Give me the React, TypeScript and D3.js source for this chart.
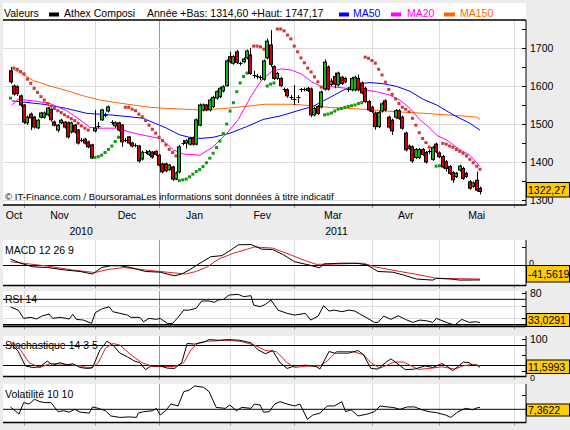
import * as d3 from 'd3';

const FONT = "'Liberation Sans', Arial, sans-serif";

// daily candles, Athex Composite (oct 2010 -> may 2011)
const opens = [1640, 1600, 1598, 1574, 1550, 1503, 1526, 1518, 1490, 1518, 1518, 1524, 1539, 1505, 1484, 1503, 1505, 1503, 1479, 1497,
  1484, 1459, 1460, 1453, 1445, 1482, 1494, 1511, 1523, 1534, 1502, 1495, 1503, 1497, 1457, 1466, 1450, 1443, 1442, 1408,
  1425, 1420, 1426, 1428, 1418, 1395, 1395, 1380, 1387, 1355, 1374, 1449, 1450, 1447, 1463, 1447, 1497, 1537, 1550, 1537,
  1546, 1568, 1572, 1587, 1601, 1677, 1660, 1690, 1658, 1664, 1674, 1682, 1628, 1624, 1621, 1618, 1674, 1708, 1651, 1620,
  1620, 1589, 1590, 1569, 1564, 1569, 1591, 1590, 1594, 1592, 1524, 1546, 1545, 1592, 1650, 1604, 1625, 1603, 1623, 1620,
  1589, 1590, 1590, 1620, 1608, 1594, 1559, 1544, 1529, 1493, 1534, 1561, 1518, 1510, 1518, 1535, 1518, 1476, 1442, 1440,
  1412, 1412, 1433, 1425, 1426, 1407, 1447, 1424, 1414, 1401, 1388, 1372, 1362, 1379, 1383, 1370, 1348, 1336, 1352, 1331];
const closes = [1611, 1579, 1580, 1550, 1505, 1518, 1516, 1492, 1510, 1529, 1529, 1542, 1511, 1497, 1497, 1510, 1492, 1466, 1503, 1479,
  1450, 1457, 1450, 1440, 1413, 1489, 1496, 1537, 1525, 1545, 1504, 1503, 1484, 1453, 1459, 1450, 1442, 1445, 1403, 1426,
  1427, 1428, 1413, 1420, 1392, 1374, 1377, 1392, 1355, 1371, 1440, 1451, 1456, 1462, 1447, 1511, 1550, 1550, 1537, 1563,
  1570, 1585, 1594, 1598, 1666, 1664, 1677, 1662, 1660, 1671, 1692, 1633, 1630, 1626, 1623, 1666, 1718, 1657, 1620, 1633,
  1601, 1591, 1574, 1571, 1566, 1571, 1588, 1592, 1588, 1524, 1541, 1528, 1584, 1663, 1592, 1613, 1605, 1634, 1607, 1611,
  1591, 1620, 1623, 1590, 1582, 1559, 1537, 1533, 1493, 1530, 1553, 1537, 1492, 1482, 1535, 1515, 1489, 1432, 1436, 1403,
  1433, 1433, 1420, 1400, 1428, 1438, 1427, 1414, 1387, 1383, 1370, 1353, 1370, 1389, 1357, 1362, 1331, 1345, 1326, 1322.27];
const highs = [1650, 1604, 1602, 1578, 1552, 1522, 1530, 1521, 1514, 1532, 1533, 1545, 1541, 1509, 1500, 1514, 1508, 1506, 1506, 1500,
  1487, 1463, 1464, 1456, 1448, 1537, 1505, 1540, 1530, 1549, 1510, 1507, 1506, 1500, 1463, 1469, 1453, 1449, 1445, 1430,
  1431, 1432, 1429, 1431, 1421, 1398, 1398, 1395, 1390, 1375, 1445, 1458, 1460, 1466, 1467, 1515, 1554, 1554, 1553, 1567,
  1574, 1589, 1598, 1602, 1670, 1690, 1681, 1695, 1664, 1675, 1696, 1700, 1640, 1632, 1628, 1670, 1725, 1747.17, 1655, 1637,
  1624, 1596, 1594, 1576, 1603, 1576, 1595, 1596, 1598, 1596, 1545, 1550, 1588, 1670, 1654, 1620, 1635, 1638, 1627, 1624,
  1596, 1624, 1627, 1630, 1612, 1598, 1563, 1548, 1533, 1534, 1557, 1565, 1522, 1514, 1539, 1539, 1522, 1480, 1446, 1444,
  1437, 1437, 1437, 1429, 1433, 1442, 1451, 1428, 1418, 1405, 1392, 1376, 1374, 1393, 1387, 1374, 1352, 1349, 1375, 1335];
const lows = [1606, 1575, 1574, 1545, 1500, 1498, 1484, 1488, 1486, 1515, 1514, 1520, 1506, 1494, 1478, 1500, 1488, 1462, 1475, 1475,
  1446, 1452, 1446, 1436, 1408, 1478, 1488, 1508, 1518, 1530, 1498, 1490, 1480, 1440, 1452, 1446, 1438, 1439, 1398, 1404,
  1421, 1416, 1409, 1416, 1388, 1370, 1373, 1376, 1350, 1352, 1370, 1444, 1435, 1443, 1443, 1444, 1494, 1533, 1533, 1533,
  1542, 1564, 1568, 1583, 1598, 1660, 1656, 1658, 1654, 1660, 1670, 1629, 1620, 1618, 1615, 1614, 1670, 1650, 1616, 1616,
  1597, 1584, 1569, 1564, 1550, 1555, 1584, 1586, 1584, 1518, 1520, 1524, 1541, 1588, 1588, 1600, 1594, 1599, 1603, 1607,
  1584, 1586, 1586, 1586, 1578, 1555, 1533, 1529, 1485, 1489, 1530, 1533, 1488, 1471, 1514, 1511, 1485, 1428, 1432, 1398,
  1408, 1408, 1416, 1396, 1421, 1403, 1423, 1410, 1383, 1375, 1366, 1345, 1358, 1375, 1353, 1358, 1327, 1332, 1322, 1314.6];

// parabolic SAR, one value per day; trend flips at these days (first run is up)
const sarValues = [1568,
  1647, 1644, 1638, 1632, 1618, 1607, 1594, 1583, 1572, 1563, 1554, 1547, 1541, 1535, 1530, 1524, 1519, 1514, 1509, 1502, 1495, 1489, 1484,
  1412, 1412, 1414, 1418, 1425, 1433, 1442, 1454, 1465, 1474,
  1544, 1544, 1539, 1535, 1526, 1519, 1509, 1497, 1486, 1476, 1465, 1456, 1445, 1433, 1425, 1416,
  1351, 1353, 1355, 1361, 1368, 1375, 1380, 1388, 1398, 1410, 1423, 1438, 1455, 1475, 1500, 1534, 1556, 1585, 1608, 1625, 1634, 1636,
  1705, 1705, 1703, 1697,
  1600, 1605, 1608,
  1750, 1750, 1745, 1734, 1724, 1705, 1690, 1674, 1661, 1647, 1637, 1624, 1611, 1597,
  1524, 1526, 1529, 1534, 1539, 1541, 1544, 1546, 1548, 1550, 1554, 1556,
  1676, 1673, 1667, 1660, 1644, 1629, 1610, 1591, 1578, 1566, 1554, 1544, 1539, 1532, 1515, 1497, 1477, 1462, 1451, 1439, 1430,
  1389, 1390,
  1449, 1447, 1442, 1439, 1433, 1428, 1423, 1416, 1407, 1398, 1389, 1381];
const sarFlips = [1, 24, 34, 50, 72, 76, 79, 93, 105, 126, 128];

// moving averages [day, value]
const ma20 = [[0.4, 1550], [2.3, 1565], [6.8, 1561], [11.7, 1554], [16.6, 1535], [20.6, 1511], [23.5, 1491], [26.5, 1489], [31.4, 1489],
  [36.4, 1476], [41.3, 1467], [44.3, 1462], [46.2, 1449], [48.2, 1432], [51.2, 1421], [56.1, 1418], [60, 1440], [64, 1475], [67.4, 1511],
  [71.4, 1576], [74.4, 1616], [77.3, 1638], [80.3, 1645], [83.2, 1642], [86.2, 1631], [89.2, 1611], [92.1, 1598], [95.1, 1598], [99.5, 1594],
  [105.4, 1589], [108.4, 1585], [112.3, 1576], [115.3, 1563], [118.3, 1541], [121.2, 1511], [124.2, 1489], [126.2, 1470], [129.1, 1458],
  [133.1, 1432], [136, 1418], [139, 1388]];
const ma50 = [[0.4, 1561], [9.7, 1552], [16.6, 1541], [22.6, 1528], [29.5, 1524], [35.4, 1519], [39.3, 1515], [43.3, 1500], [46.2, 1489],
  [50.2, 1471], [53.1, 1465], [56.1, 1462], [60, 1465], [65, 1476], [69.9, 1493], [74.8, 1512], [79.8, 1521], [84.7, 1534], [89.7, 1547],
  [94.6, 1570], [98.5, 1589], [102.5, 1605], [106.4, 1609], [110.4, 1606], [114.3, 1599], [118.3, 1586], [122.2, 1565], [126.2, 1550],
  [131.1, 1524], [136, 1502], [139, 1484]];
const ma150 = [[0.8, 1644], [2.8, 1635], [6.8, 1614], [11.7, 1600], [16.6, 1588], [21.6, 1574], [26.5, 1563], [31.4, 1556], [36.4, 1550],
  [41.3, 1544], [46.2, 1541], [51.2, 1539], [56.1, 1537], [63.5, 1541], [69.4, 1546], [75.3, 1552], [83.2, 1552], [89.2, 1548],
  [95.1, 1543], [104.4, 1539], [114.3, 1532], [119.2, 1530], [124.2, 1527], [134, 1521], [138, 1518], [139, 1512]];

// indicators [day, value]
const macdLine = [[0, 16], [3, 5], [6.6, -5], [11, -7], [16.3, -14], [20.6, -18], [24.3, -25], [27, -7], [29.7, -2], [32.4, -2], [35.6, -7],
  [40, -18], [44.3, -20], [48.6, -30], [50.7, -25], [52.9, -14], [56.1, 5], [59.3, 23], [62.6, 26], [65.3, 42], [67.4, 56], [71.2, 57],
  [74.4, 44], [77.6, 43], [80.9, 28], [84.1, 9], [88.4, 0], [91.6, -8], [92.7, 3], [98.1, 5], [102.4, 5], [105.6, 0], [108.8, -18],
  [113.2, -20], [116.4, -28], [120.2, -39], [125, -42], [126.1, -37], [130.4, -39], [133, -42], [139, -41.5619]];
const macdSignal = [[0, 9], [5.5, 3], [11, -3], [18.4, -14], [24.9, -21], [29.2, -12], [33.5, -7], [40, -14], [46.4, -20], [51.8, -25],
  [55, -18], [58.3, -5], [61.5, 16], [65.8, 32], [70.1, 44], [72.2, 50], [77.6, 47], [83, 28], [87.3, 12], [90.5, 2], [93.8, 2],
  [104.5, 5], [107.8, -5], [115.3, -18], [119.6, -25], [126.1, -37], [139, -39]];
const rsi = [[0, 58], [2.3, 53], [3.9, 40], [6, 41.6], [7.7, 39], [9.3, 43.7], [11.4, 46.8], [12.5, 40], [14.7, 41.6], [17.4, 39],
  [18.4, 46.3], [19.5, 38.4], [21.6, 37.3], [24, 32], [25.1, 49], [27, 54.7], [29.2, 58.4], [30.3, 50.5], [32.4, 47.9], [34.6, 45.2],
  [35.6, 41.6], [38.3, 41.6], [39.4, 34.7], [41, 40], [43.2, 38.4], [44.3, 40], [46.4, 32], [48, 32], [49.6, 41.6], [51.3, 53],
  [52.9, 53], [55, 56], [56.6, 67.4], [58.8, 67.4], [60.4, 65.3], [61.5, 69], [63.1, 70], [64.7, 76.8], [67.4, 77.9], [69, 74.2],
  [71.2, 75.8], [72, 61], [73.9, 58.4], [75.5, 62.1], [77.1, 69], [79.2, 53], [81.9, 47.9], [84.1, 45.2], [87.3, 47.9], [88.9, 37.3],
  [91.1, 43.7], [92.7, 60], [94.3, 51.6], [95.9, 53], [98.1, 50.5], [100.2, 53], [101.9, 51.6], [104, 45.2], [107.8, 33.6],
  [108.8, 33.6], [110.5, 43.7], [112.6, 38.4], [114.8, 44], [116.9, 38.4], [119.1, 33.6], [121.2, 37.3], [123.4, 36], [125, 33.6],
  [126.1, 40], [129.3, 33.1], [131.5, 29.4], [133.6, 38.4], [135.8, 33.6], [137.9, 34.7], [139, 33.0291]];
const stochK = [[0, 87], [2.3, 61], [4.4, 16], [6.6, 11], [8.7, 13], [10.9, 31], [12.5, 18], [14.7, 26], [16.8, 18], [18.4, 23],
  [20.6, 11], [22.7, 8], [24.3, 11], [26.5, 66], [28.6, 93], [30.3, 81], [32.4, 56], [34.6, 44], [36.7, 31], [38.3, 26], [40, 4],
  [41.6, 16], [44.3, 16], [46.4, 9], [48.6, 8], [50.7, 26], [52.3, 86], [54.5, 84], [57.2, 90], [58.8, 98], [61.5, 96], [64.7, 98],
  [67.9, 96], [71.2, 88], [73.3, 66], [75.5, 54], [77.6, 64], [79.8, 26], [81.9, 8], [84.1, 16], [87.3, 18], [90.5, 14], [91.6, 6],
  [94.3, 61], [95.9, 56], [98.1, 56], [100.2, 56], [102.9, 64], [104.5, 51], [106.7, 8], [108.8, 6], [111, 26], [112.6, 38], [114.2, 26],
  [116.9, 4], [119.6, 6], [122.8, 16], [125, 11], [127.7, 23], [129.3, 14], [130.9, 1], [132.5, 14], [134.1, 28], [135.8, 26],
  [136.8, 18], [137.9, 19], [139, 11.5993]];
const stochD = [[0, 90], [2.3, 76], [5.5, 26], [8.7, 11], [12, 24], [16.3, 21], [20.6, 16], [23.8, 8], [26, 26], [28.1, 71], [30.3, 86],
  [32.4, 81], [35.6, 51], [38.9, 26], [42.1, 14], [48.6, 14], [51.3, 26], [53.4, 66], [55.6, 88], [58.3, 93], [63.6, 96], [67.9, 93],
  [72.2, 81], [75.5, 64], [78.7, 61], [81.9, 26], [84.1, 11], [88.4, 16], [91.6, 16], [93.8, 31], [96.5, 61], [101.3, 61], [104.5, 51],
  [106.7, 26], [109.4, 9], [113.7, 28], [116.4, 28], [120.7, 5], [123.9, 8], [127.7, 13], [131.5, 6], [134.1, 16], [136.8, 21], [139, 16]];
const volat = [[0, 7.5], [2.5, 6.0], [3.9, 8.4], [5.5, 8.1], [7.1, 9.1], [8.7, 8.6], [10.3, 8.4], [12, 8.4], [13, 7.5], [14.1, 6.5],
  [15.7, 6.7], [17.4, 6.4], [19, 7.0], [20.6, 6.4], [23.3, 6.2], [24.3, 7.5], [26, 7.2], [28.1, 6.7], [29.7, 5.6], [32.4, 5.3],
  [35.1, 5.4], [37.3, 5.3], [37.8, 6.2], [39.4, 6.5], [42.1, 6.7], [43.2, 7.2], [44.3, 5.8], [45.9, 6.7], [47.5, 8.1], [49.6, 7.7],
  [51.3, 10.7], [52.9, 11.0], [54.5, 11.9], [57.2, 11.6], [58.8, 10.7], [60.9, 7.4], [63.6, 7.2], [64.9, 7.9], [66.9, 6.7], [68.5, 7.4],
  [71.2, 7.2], [72.2, 8.1], [73.9, 7.9], [74.9, 6.4], [76.6, 6.5], [78.2, 8.1], [79.8, 8.6], [81.9, 8.1], [84.1, 7.7], [85.7, 8.1],
  [87.9, 4.9], [89.5, 5.8], [91.6, 6.2], [93.8, 7.7], [95.9, 7.7], [98.1, 8.6], [99.2, 6.5], [100.8, 6.9], [102.9, 5.6], [105.6, 6.0],
  [107.8, 6.5], [109.4, 7.7], [111.5, 7.5], [113.2, 7.4], [115.3, 7.0], [117.5, 7.5], [119.6, 7.5], [121.8, 6.9], [123.9, 6.5],
  [126.1, 6.3], [128.8, 5.8], [130.4, 5.3], [132.5, 6.5], [134.7, 7.2], [136.8, 6.9], [138.5, 7.4], [139, 7.3622]];

const monthNames = ['Oct', 'Nov', 'Dec', 'Jan', 'Fev', 'Mar', 'Avr', 'Mai'];
const monthStarts = [-17, 4, 25, 44, 65, 84, 107, 127, 149];
const yearNames = ['2010', '2011'];
const priceTicks = [1300, 1400, 1500, 1600, 1700];
const lastLabels = ['1322,27', '-41,5619', '33,0291', '11,5993', '7,3622'];

const LEFT = 3;
const RIGHT = 526;
const RED = '#cc0000';
const GREEN = '#19b019';

const x = d3.scaleLinear().domain([0, 139]).range([10.5, 480]);
const yPrice = d3.scaleLinear().domain([1300, 1700]).range([200, 48]);
const yMacd = d3.scaleLinear().domain([0, 50]).range([265, 247]);
const yRsi = d3.scaleLinear().domain([30, 80]).range([324.7, 293]);
const ySto = d3.scaleLinear().domain([0, 100]).range([371, 339]);
const yVol = d3.scaleLinear().domain([7, 10]).range([409.3, 395]);

const panels = [
  { id: 'main', top: 21, bottom: 205 },
  { id: 'macd', top: 240, bottom: 285.5 },
  { id: 'rsi', top: 291, bottom: 326.5 },
  { id: 'sto', top: 336, bottom: 376.5 },
  { id: 'vol', top: 384, bottom: 422.5 },
];

function path(data: number[][], y: d3.ScaleLinear<number, number>) {
  return d3.line<number[]>().x(d => x(d[0])).y(d => y(d[1]))(data) || '';
}

function Grid({ top, bottom }: { top: number; bottom: number }) {
  return (
    <g>
      {monthStarts.slice(1).map((m, i) => (
        <line key={i} x1={Math.round(x(m)) + 0.5} x2={Math.round(x(m)) + 0.5} y1={top} y2={bottom}
          stroke={m === 44 ? '#999' : '#ddd'} />
      ))}
      {monthStarts.slice(1).map((m, i) => (
        <line key={'t' + i} x1={Math.round(x(m)) + 0.5} x2={Math.round(x(m)) + 0.5} y1={bottom} y2={bottom + 3} stroke="#999" />
      ))}
    </g>
  );
}

function ValueBox({ top, h, text }: { top: number; h: number; text: string }) {
  return (
    <g>
      <rect x={RIGHT + 0.5} y={top + 0.5} width={43} height={h} fill="#ffcc00" stroke="#000" />
      <text x={RIGHT + 2} y={top + h / 2 + 4.5} fontSize={10.5} fontFamily={FONT}>{text}</text>
    </g>
  );
}

function tick(y: number, key: string) {
  return <line key={key} x1={RIGHT - 4} x2={RIGHT} y1={Math.round(y) + 0.5} y2={Math.round(y) + 0.5} stroke="#000" />;
}

export default function App() {
  const sarUp = sarValues.map((_, i) => sarFlips.filter(f => f <= i).length % 2 === 0);
  const main = panels[0];
  const monthX = monthStarts.map(m => x(m));

  return (
    <svg width={570} height={430} style={{ position: 'absolute', left: 0, top: 0, display: 'block' }}>
      <defs>
        {panels.map(p => (
          <clipPath key={p.id} id={'clip-' + p.id}>
            <rect x={LEFT} y={p.top} width={RIGHT - LEFT} height={p.bottom - p.top} />
          </clipPath>
        ))}
      </defs>
      <rect width={570} height={430} fill="#ececec" />
      <rect x={LEFT} y={3} width={RIGHT - LEFT} height={18} fill="#fff" />
      {panels.map(p => (
        <rect key={p.id} x={LEFT} y={p.top} width={RIGHT - LEFT} height={p.bottom - p.top} fill="#fff" />
      ))}

      {/* header */}
      <g fontFamily={FONT} fontSize={10.5}>
        <text x={4} y={17}>Valeurs</text>
        <rect x={49} y={12.5} width={10} height={4} fill="#000" />
        <text x={64} y={17}>Athex Composi</text>
        <text x={147} y={17}>Année +Bas: 1314,60 +Haut: 1747,17</text>
        <rect x={339} y={12.5} width={10} height={4} fill="#0000ff" />
        <text x={353} y={17} fill="#0000ff">MA50</text>
        <rect x={391} y={12.5} width={10} height={4} fill="#ff00ff" />
        <text x={407} y={17} fill="#ff00ff">MA20</text>
        <rect x={444} y={12.5} width={11} height={4} fill="#ff6600" />
        <text x={460} y={17} fill="#ff6600">MA150</text>
      </g>
      <line x1={LEFT} x2={RIGHT} y1={20} y2={20} stroke="#000" strokeWidth={1.5} />

      {/* main price panel */}
      <Grid top={main.top} bottom={main.bottom} />
      {priceTicks.map(t => (
        <line key={t} x1={LEFT} x2={RIGHT} y1={Math.round(yPrice(t)) + 0.5} y2={Math.round(yPrice(t)) + 0.5} stroke="#ddd" />
      ))}
      <g clipPath="url(#clip-main)">
        <path d={path(ma150, yPrice)} fill="none" stroke="#ff6600" />
        <path d={path(ma50, yPrice)} fill="none" stroke="#0000ff" />
        <path d={path(ma20, yPrice)} fill="none" stroke="#ff00ff" />
        {sarValues.map((v, i) => (
          <rect key={'s' + i} x={x(i) - 1.5} y={yPrice(v) - 1.5} width={3} height={3}
            fill={sarUp[i] ? '#109a10' : '#cc3838'} />
        ))}
        {opens.map((o, i) => {
          const c = closes[i];
          const cx = Math.round(x(i));
          const top = yPrice(Math.max(o, c));
          const bot = yPrice(Math.min(o, c));
          const doji = bot - top < 1.5;
          return (
            <g key={'c' + i}>
              <line x1={cx + 0.5} x2={cx + 0.5} y1={yPrice(highs[i])} y2={yPrice(lows[i])} stroke="#000" />
              {doji ? (
                <line x1={cx - 1.5} x2={cx + 2.5} y1={Math.round(top) + 0.5} y2={Math.round(top) + 0.5} stroke="#000" />
              ) : (
                <rect x={cx - 1.5} y={top} width={3} height={bot - top} fill={c > o ? GREEN : RED} stroke="#000" />
              )}
            </g>
          );
        })}
      </g>
      <text x={5} y={200} fontFamily={FONT} fontSize={9.6}>© IT-Finance.com / BoursoramaLes informations sont données à titre indicatif</text>
      <line x1={LEFT} x2={RIGHT + 0.5} y1={205} y2={205} stroke="#000" strokeWidth={1.5} />
      <line x1={RIGHT} x2={RIGHT} y1={20} y2={205} stroke="#000" />
      {d3.range(1300, 1751, 50).map(t => tick(yPrice(t), 'pt' + t))}
      {priceTicks.map(t => (
        <text key={'pl' + t} x={530} y={yPrice(t) + 4} fontFamily={FONT} fontSize={10.5}>{t}</text>
      ))}
      <ValueBox top={182} h={14.5} text={lastLabels[0]} />

      {/* month and year labels */}
      <g fontFamily={FONT} fontSize={10.5} textAnchor="middle">
        {monthNames.map((m, i) => (
          <text key={m} x={Math.max(14, (monthX[i] + monthX[i + 1]) / 2)} y={219}>{m}</text>
        ))}
        {yearNames.map((yName, i) => {
          const a = Math.max(LEFT, x(i === 0 ? -17 : 44));
          const b = i === 0 ? x(44) : x(149);
          return <text key={yName} x={(a + b) / 2} y={235}>{yName}</text>;
        })}
      </g>

      {/* MACD */}
      <Grid top={240} bottom={285.5} />
      <line x1={LEFT} x2={RIGHT} y1={yMacd(0) + 0.5} y2={yMacd(0) + 0.5} stroke="#000" />
      <g clipPath="url(#clip-macd)">
        <path d={path(macdSignal, yMacd)} fill="none" stroke="#dd2222" />
        <path d={path(macdLine, yMacd)} fill="none" stroke="#000" />
      </g>
      <text x={5} y={254} fontFamily={FONT} fontSize={10.5}>MACD 12 26 9</text>
      <line x1={LEFT} x2={RIGHT} y1={285.5} y2={285.5} stroke="#000" strokeWidth={1.5} />
      <line x1={RIGHT} x2={RIGHT} y1={240} y2={286} stroke="#000" />
      {tick(yMacd(50), 'm50')}
      <text x={529} y={yMacd(0) + 1} fontFamily={FONT} fontSize={9}>0</text>
      <ValueBox top={265} h={16.5} text={lastLabels[1]} />

      {/* RSI */}
      <Grid top={291} bottom={326.5} />
      {[60, 40].map(v => (
        <line key={v} x1={LEFT} x2={RIGHT} y1={Math.round(yRsi(v)) + 0.5} y2={Math.round(yRsi(v)) + 0.5} stroke="#ddd" />
      ))}
      <text x={5} y={303} fontFamily={FONT} fontSize={10.5}>RSI 14</text>
      {[70, 30].map(v => (
        <line key={v} x1={LEFT} x2={RIGHT} y1={yRsi(v)} y2={yRsi(v)} stroke="#000" strokeWidth={v === 30 ? 1.5 : 1} />
      ))}
      <g clipPath="url(#clip-rsi)">
        <path d={path(rsi, yRsi)} fill="none" stroke="#000" />
      </g>
      <line x1={LEFT} x2={RIGHT} y1={326.5} y2={326.5} stroke="#000" strokeWidth={1.5} />
      <line x1={RIGHT} x2={RIGHT} y1={291} y2={327} stroke="#000" />
      {[80, 60, 40].map(v => tick(yRsi(v), 'r' + v))}
      <text x={530} y={yRsi(80) + 4} fontFamily={FONT} fontSize={10.5}>80</text>
      <ValueBox top={313} h={13} text={lastLabels[2]} />

      {/* Stochastic */}
      <Grid top={336} bottom={376.5} />
      <text x={5} y={349} fontFamily={FONT} fontSize={10.5}>Stochastique 14 3 5</text>
      {[80, 20].map(v => (
        <line key={v} x1={LEFT} x2={RIGHT} y1={Math.round(ySto(v)) + 0.5} y2={Math.round(ySto(v)) + 0.5} stroke="#000" />
      ))}
      <g clipPath="url(#clip-sto)">
        <path d={path(stochD, ySto)} fill="none" stroke="#dd2222" />
        <path d={path(stochK, ySto)} fill="none" stroke="#000" />
      </g>
      <line x1={LEFT} x2={RIGHT} y1={376.5} y2={376.5} stroke="#000" strokeWidth={1.5} />
      <line x1={RIGHT} x2={RIGHT} y1={336} y2={377} stroke="#000" />
      {[100, 50, 0].map(v => tick(ySto(v), 's' + v))}
      <text x={530} y={ySto(100) + 4} fontFamily={FONT} fontSize={10.5}>100</text>
      <text x={530} y={381} fontFamily={FONT} fontSize={9}>0</text>
      <ValueBox top={359.5} h={13.5} text={lastLabels[3]} />

      {/* Volatility */}
      <Grid top={384} bottom={422.5} />
      <text x={5} y={398} fontFamily={FONT} fontSize={10.5}>Volatilité 10 10</text>
      <line x1={LEFT} x2={RIGHT} y1={yVol(7)} y2={yVol(7)} stroke="#000" />
      <g clipPath="url(#clip-vol)">
        <path d={path(volat, yVol)} fill="none" stroke="#000" />
      </g>
      <line x1={LEFT} x2={RIGHT} y1={422.5} y2={422.5} stroke="#000" strokeWidth={1.5} />
      <line x1={RIGHT} x2={RIGHT} y1={384} y2={423} stroke="#000" />
      {tick(yVol(10), 'v10')}
      <ValueBox top={403.5} h={12} text={lastLabels[4]} />
    </svg>
  );
}
